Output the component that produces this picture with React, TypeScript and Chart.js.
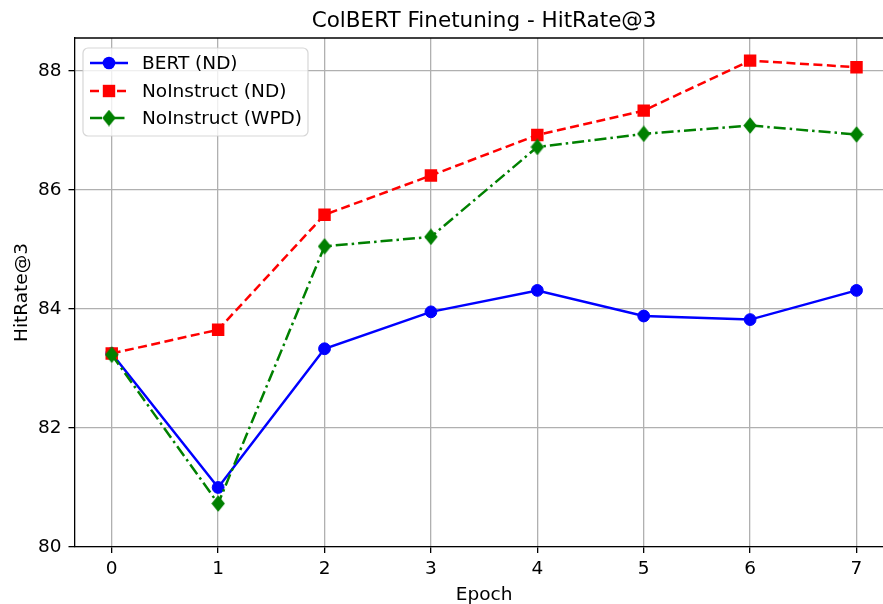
import React, { useEffect, useRef } from "react";
import { Chart, registerables } from "chart.js";

Chart.register(...registerables);

// ---- data ----
const epochs = [0, 1, 2, 3, 4, 5, 6, 7];
const bertND = [83.25, 81.0, 83.33, 83.95, 84.31, 83.88, 83.82, 84.31];
const noInstructND = [83.25, 83.65, 85.58, 86.24, 86.92, 87.33, 88.17, 88.06];
const noInstructWPD = [83.23, 80.73, 85.05, 85.21, 86.72, 86.94, 87.08, 86.93];
const seriesLabels = ["BERT (ND)", "NoInstruct (ND)", "NoInstruct (WPD)"];
const xTicks = [0, 1, 2, 3, 4, 5, 6, 7];
const yTicks = [80, 82, 84, 86, 88];
const titleText = "ColBERT Finetuning - HitRate@3";
const xTitle = "Epoch";
const yTitle = "HitRate@3";

const FONT = '"DejaVu Sans", "Liberation Sans", sans-serif';

function makeDiamond(color: string): HTMLCanvasElement {
  const c = document.createElement("canvas");
  c.width = 14;
  c.height = 17;
  const g = c.getContext("2d")!;
  g.fillStyle = color;
  g.beginPath();
  g.moveTo(7, 0.3);
  g.lineTo(13.7, 8.5);
  g.lineTo(7, 16.7);
  g.lineTo(0.3, 8.5);
  g.closePath();
  g.fill();
  return c;
}

export default function App() {
  const ref = useRef<HTMLCanvasElement | null>(null);

  useEffect(() => {
    if (!ref.current) return;
    const diamond = makeDiamond("#008000");
    const toXY = (arr: number[]) => epochs.map((e, i) => ({ x: e, y: arr[i] }));

    const overlay = {
      id: "overlay",
      afterDraw(chart: any) {
        const ctx = chart.ctx as CanvasRenderingContext2D;
        const a = chart.chartArea;
        const cx = chart.scales.x.getPixelForValue(3.5);
        const cy = (a.top + a.bottom) / 2;
        ctx.save();
        // top spine
        ctx.strokeStyle = "#000";
        ctx.lineWidth = 1.3;
        ctx.beginPath();
        ctx.moveTo(a.left, a.top);
        ctx.lineTo(a.right + 2, a.top);
        ctx.stroke();
        // title & axis labels
        ctx.fillStyle = "#000";
        ctx.textAlign = "center";
        ctx.textBaseline = "alphabetic";
        ctx.font = `21.5px ${FONT}`;
        ctx.fillText(titleText, cx, 27);
        ctx.font = `18.5px ${FONT}`;
        ctx.fillText(xTitle, cx, 600);
        ctx.save();
        ctx.translate(27, cy);
        ctx.rotate(-Math.PI / 2);
        ctx.fillText(yTitle, 0, 0);
        ctx.restore();

        // legend
        const lx = a.left + 8.5;
        const ly = a.top + 10;
        const lw = 225;
        const lh = 88;
        ctx.beginPath();
        (ctx as any).roundRect(lx, ly, lw, lh, 5);
        ctx.fillStyle = "rgba(255,255,255,0.8)";
        ctx.fill();
        ctx.strokeStyle = "rgba(204,204,204,0.8)";
        ctx.lineWidth = 1.2;
        ctx.stroke();
        const rows = [15, 43, 70];
        chart.data.datasets.forEach((ds: any, i: number) => {
          const y = ly + rows[i];
          ctx.strokeStyle = ds.borderColor;
          ctx.lineWidth = ds.borderWidth;
          ctx.setLineDash(ds.borderDash || []);
          ctx.beginPath();
          ctx.moveTo(lx + 7, y);
          ctx.lineTo(lx + 45, y);
          ctx.stroke();
          ctx.setLineDash([]);
          const mx = lx + 26;
          ctx.fillStyle = ds.backgroundColor;
          if (ds.pointStyle === "circle") {
            ctx.beginPath();
            ctx.arc(mx, y, 6.3, 0, Math.PI * 2);
            ctx.fill();
          } else if (ds.pointStyle === "rect") {
            ctx.fillRect(mx - 6.2, y - 6.2, 12.4, 12.4);
          } else {
            const img = ds.pointStyle as HTMLCanvasElement;
            ctx.drawImage(img, mx - img.width / 2, y - img.height / 2);
          }
          ctx.fillStyle = "#000";
          ctx.textAlign = "left";
          ctx.textBaseline = "middle";
          ctx.font = `18.5px ${FONT}`;
          ctx.fillText(ds.label, lx + 59, y + 1);
        });
        ctx.restore();
      },
    };

    const chart = new Chart(ref.current, {
      type: "line",
      data: {
        datasets: [
          {
            label: seriesLabels[0],
            data: toXY(bertND),
            borderColor: "#0000ff",
            backgroundColor: "#0000ff",
            borderWidth: 2.5,
            pointStyle: "circle",
            pointRadius: 5.9,
            pointBorderWidth: 1,
            pointBorderColor: "#0000ff",
            pointBackgroundColor: "#0000ff",
            order: 2,
          },
          {
            label: seriesLabels[1],
            data: toXY(noInstructND),
            borderColor: "#ff0000",
            backgroundColor: "#ff0000",
            borderWidth: 2.5,
            borderDash: [9, 4.5],
            pointStyle: "rect",
            pointRadius: 8.8,
            pointBorderWidth: 0,
            pointBackgroundColor: "#ff0000",
            order: 1,
          },
          {
            label: seriesLabels[2],
            data: toXY(noInstructWPD),
            borderColor: "#008000",
            backgroundColor: "#008000",
            borderWidth: 2.5,
            borderDash: [12, 4, 2.5, 4],
            pointStyle: diamond as any,
            pointRadius: 8,
            order: 0,
          },
        ],
      },
      options: {
        responsive: false,
        maintainAspectRatio: false,
        animation: false,
        devicePixelRatio: 1,
        layout: { autoPadding: false, padding: { top: 38, right: 0, left: 0, bottom: 0 } },
        plugins: {
          legend: { display: false },
          title: { display: false },
          tooltip: { enabled: false },
        },
        scales: {
          x: {
            type: "linear",
            min: -0.35,
            max: 7.249,
            afterBuildTicks: (s: any) => {
              s.ticks = xTicks.map((v) => ({ value: v }));
            },
            afterFit: (s: any) => {
              s.height = 57;
              s.paddingLeft = 0;
              s.paddingRight = 0;
            },
            ticks: {
              color: "#000",
              font: { family: FONT, size: 18.5 },
              padding: 5,
              maxRotation: 0,
              autoSkip: false,
            },
            grid: {
              color: "#b0b0b0",
              lineWidth: 1.3,
              tickColor: "#000",
              tickLength: 6,
              tickWidth: 1.3,
            },
            border: { display: true, color: "#000", width: 1.3 },
          },
          y: {
            type: "linear",
            min: 80,
            max: 88.55,
            afterBuildTicks: (s: any) => {
              s.ticks = yTicks.map((v) => ({ value: v }));
            },
            afterFit: (s: any) => {
              s.width = 74.5;
              s.paddingTop = 0;
              s.paddingBottom = 0;
            },
            ticks: {
              color: "#000",
              font: { family: FONT, size: 18.5 },
              padding: 7,
              autoSkip: false,
            },
            grid: {
              color: "#b0b0b0",
              lineWidth: 1.3,
              tickColor: "#000",
              tickLength: 6,
              tickWidth: 1.3,
            },
            border: { display: true, color: "#000", width: 1.3 },
          },
        },
      },
      plugins: [overlay],
    });
    return () => chart.destroy();
  }, []);

  return (
    <div
      style={{
        position: "fixed",
        left: 0,
        top: 0,
        width: 883,
        height: 604,
        overflow: "hidden",
        background: "#fff",
      }}
    >
      <canvas ref={ref} width={883} height={604} style={{ width: 883, height: 604, display: "block" }} />
    </div>
  );
}
